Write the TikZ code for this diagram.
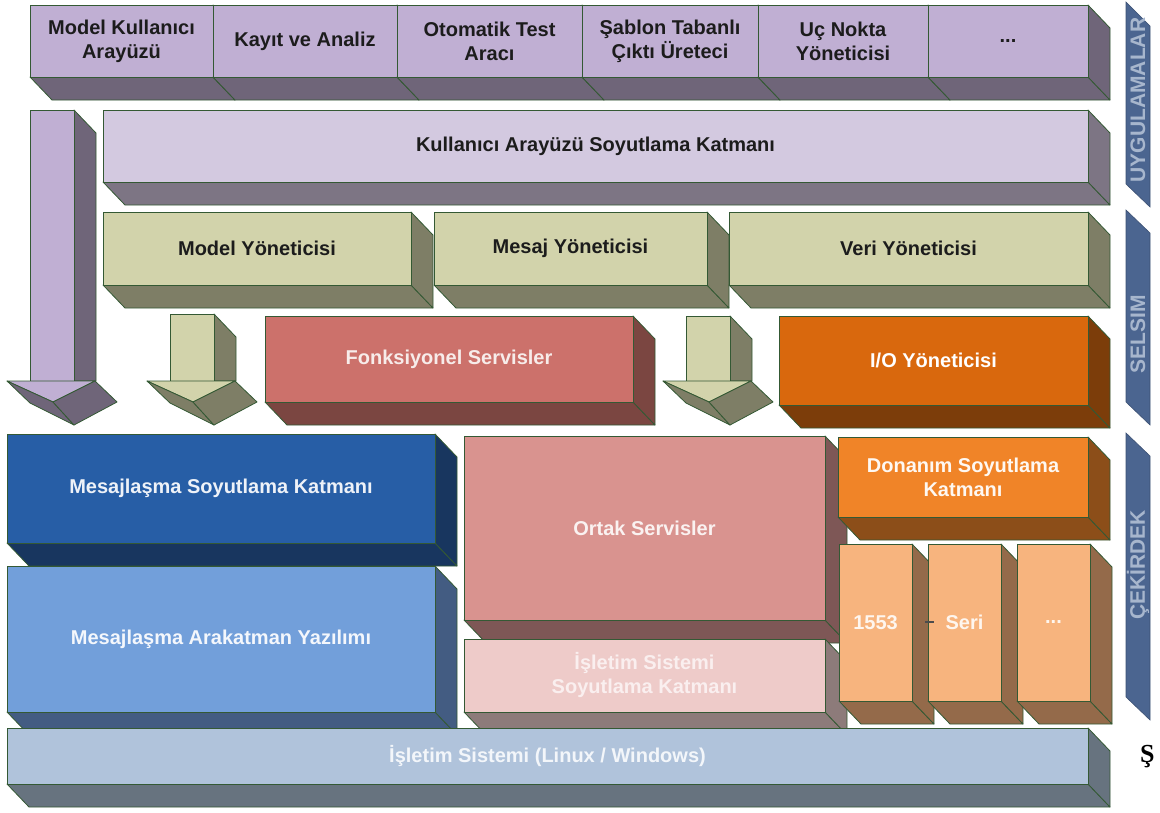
\documentclass[tikz,border=0pt]{standalone}
\usepackage{fontspec}
\setmainfont{Liberation Sans}
\newfontfamily\capfont{Liberation Serif}
\definecolor{edgec}{HTML}{345934}
\definecolor{apF}{HTML}{C0AFD3}\definecolor{apD}{HTML}{6F6579}
\definecolor{kuF}{HTML}{D3C9E0}\definecolor{kuD}{HTML}{7D7584}
\definecolor{yoF}{HTML}{D2D3AB}\definecolor{yoD}{HTML}{7E7E66}
\definecolor{fsF}{HTML}{CC716B}\definecolor{fsD}{HTML}{7B4641}
\definecolor{ioF}{HTML}{D9680D}\definecolor{ioD}{HTML}{7C3D0A}
\definecolor{msF}{HTML}{275EA6}\definecolor{msD}{HTML}{18365F}
\definecolor{maF}{HTML}{729FDA}\definecolor{maD}{HTML}{435C82}
\definecolor{orF}{HTML}{D9938F}\definecolor{orD}{HTML}{7E5756}
\definecolor{isF}{HTML}{EECBC9}\definecolor{isD}{HTML}{8D7B7A}
\definecolor{doF}{HTML}{F08428}\definecolor{doD}{HTML}{8C4E19}
\definecolor{smF}{HTML}{F7B47E}\definecolor{smD}{HTML}{946A4A}
\definecolor{osF}{HTML}{B0C3DB}\definecolor{osD}{HTML}{67737F}
\definecolor{tabc}{HTML}{4B6590}
\definecolor{tabt}{HTML}{A7B6CD}
\definecolor{darkt}{HTML}{1C1C1C}
\definecolor{lightt}{HTML}{F7ECEA}
\tikzset{
  edge/.style={draw=edgec, line width=0.8pt, line join=round},
  lbl/.style={font=\bfseries\fontsize{20}{24}\selectfont, align=center, inner sep=0pt},
  tablbl/.style={font=\bfseries\fontsize{21}{24}\selectfont, text=tabt, rotate=90, inner sep=0pt},
  tabshape/.style={fill=tabc, draw=tabc!80!black, line width=0.6pt}
}
% #1 name, #2 x1, #3 y1, #4 x2, #5 y2, #6 front, #7 dark, #8 text colour, #9 text
\newcommand{\blk}[9]{%
  \filldraw[fill=#7, edge] (#2,#5) -- (#4,#5) -- ({#4+22},{#5+23}) -- ({#2+22},{#5+23}) -- cycle;
  \filldraw[fill=#7, edge] (#4,#3) -- ({#4+22},{#3+23}) -- ({#4+22},{#5+23}) -- (#4,#5) -- cycle;
  \filldraw[fill=#6, edge] (#2,#3) rectangle (#4,#5);
  \node[lbl, text=#8] (#1) at ({(#2+#4)/2},{(#3+#5)/2}) {#9};
}
% #1 name, #2 x0, #3 top, #4 front, #5 dark
\newcommand{\arr}[5]{%
  \filldraw[fill=#5, edge] ({#2+44},#3) -- ({#2+66},{#3+23}) -- ({#2+66},381) -- ({#2+44},381) -- cycle;
  \filldraw[fill=#4, edge] (#2,#3) rectangle ({#2+44},381);
  \filldraw[fill=#4, edge] ({#2-23},381) -- ({#2+65},381) -- ({#2+23},402) -- cycle;
  \filldraw[fill=#5, edge] ({#2-23},381) -- ({#2+23},402) -- ({#2+44},425) -- (#2,403) -- cycle;
  \filldraw[fill=#5, edge] ({#2+65},381) -- ({#2+87},402) -- ({#2+44},425) -- ({#2+23},402) -- cycle;
  \coordinate (#1) at ({#2+44},425);
}
\begin{document}
\begin{tikzpicture}[x=1pt,y=-1pt]
\useasboundingbox (0,0) rectangle (1160,812);
% UYGULAMALAR row
\blk{a1}{30}{5}{213}{77}{apF}{apD}{darkt}{Model Kullanıcı\\Arayüzü}
\blk{a2}{213}{5}{397}{77}{apF}{apD}{darkt}{Kayıt ve Analiz}
\blk{a3}{397}{5}{582}{77}{apF}{apD}{darkt}{Otomatik Test\\Aracı}
\blk{a4}{582}{5}{758}{77}{apF}{apD}{darkt}{Şablon Tabanlı\\Çıktı Üreteci}
\blk{a5}{758}{5}{928}{77}{apF}{apD}{darkt}{Uç Nokta\\Yöneticisi}
\blk{a6}{928}{5}{1088}{77}{apF}{apD}{darkt}{...}
\blk{ku}{103}{110}{1088}{182}{kuF}{kuD}{darkt}{Kullanıcı Arayüzü Soyutlama Katmanı}
\arr{arA}{30}{110}{apF}{apD}
% SELSIM
\blk{mo}{103}{212}{411}{285}{yoF}{yoD}{darkt}{Model Yöneticisi}
\blk{me}{434}{212}{707}{285}{yoF}{yoD}{darkt}{Mesaj Yöneticisi}
\blk{ve}{729}{212}{1088}{285}{yoF}{yoD}{darkt}{Veri Yöneticisi}
\arr{arB}{170}{314}{yoF}{yoD}
\blk{fs}{265}{316}{633}{402}{fsF}{fsD}{lightt}{Fonksiyonel Servisler}
\arr{arC}{686}{316}{yoF}{yoD}
\blk{io}{779}{316}{1088}{405}{ioF}{ioD}{white}{I/O Yöneticisi}
% CEKIRDEK
\blk{ms}{7}{434}{435}{543}{msF}{msD}{white!92!msF}{Mesajlaşma Soyutlama Katmanı}
\blk{ma}{7}{566}{435}{712}{maF}{maD}{white!92!maF}{Mesajlaşma Arakatman Yazılımı}
\blk{or}{464}{436}{825}{620}{orF}{orD}{white!88!orF}{Ortak Servisler}
\blk{is}{464}{639}{825}{712}{isF}{isD}{white!70!isF}{İşletim Sistemi\\Soyutlama Katmanı}
\blk{do}{838}{437}{1088}{517}{doF}{doD}{white!94!doF}{Donanım Soyutlama\\Katmanı}
\blk{b1}{839}{544}{912}{701}{smF}{smD}{white!88!smF}{1553}
\blk{b2}{928}{544}{1001}{701}{smF}{smD}{white!88!smF}{Seri}
\blk{b3}{1017}{544}{1090}{701}{smF}{smD}{white!88!smF}{...}
\draw[line width=2.5pt, draw=black!70] (925,622) -- (934,622);
\blk{os}{7}{728}{1088}{784}{osF}{osD}{white!85!osF}{İşletim Sistemi (Linux / Windows)}
% side tabs
\filldraw[tabshape] (1126,2) -- (1150,26) -- (1150,207) -- (1126,184) -- cycle;
\node[tablbl] (tU) at (1138,100) {UYGULAMALAR};
\filldraw[tabshape] (1126,210) -- (1150,233) -- (1150,425) -- (1126,402) -- cycle;
\node[tablbl] (tS) at (1138,334) {SELSIM};
\filldraw[tabshape] (1126,433) -- (1150,456) -- (1150,720) -- (1126,697) -- cycle;
\node[tablbl] (tC) at (1138,565) {ÇEKİRDEK};
% caption fragment
\node[font=\capfont\bfseries\fontsize{26}{30}\selectfont, anchor=west, inner sep=0pt] (cap) at (1140,757) {Ş};
\end{tikzpicture}
\end{document}
